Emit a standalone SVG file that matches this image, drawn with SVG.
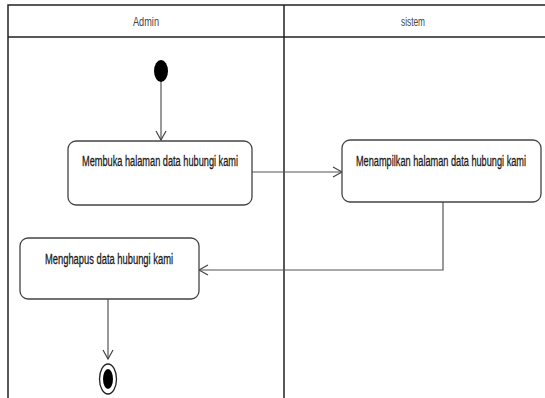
<svg xmlns="http://www.w3.org/2000/svg" width="545" height="398" viewBox="0 0 545 398">
<style>
.frame{fill:none;stroke:#222;stroke-width:1.5}
.node{fill:#fff;stroke:#444;stroke-width:1.3}
.lbl{font-family:"Liberation Sans",Arial,sans-serif;font-size:15px;fill:#1a1a1a;text-anchor:middle;stroke:#1a1a1a;stroke-width:0.3}
.hdr{font-family:"Liberation Sans",Arial,sans-serif;font-size:13px;fill:#444;text-anchor:middle}
.edge{fill:none;stroke:#555;stroke-width:1.2}
</style>
<defs>
<marker id="arr" markerWidth="12" markerHeight="12" refX="10" refY="6" orient="auto" markerUnits="userSpaceOnUse">
<path d="M1,1 L10,6 L1,11" fill="none" stroke="#444" stroke-width="1.2"/>
</marker>
</defs>
<rect width="545" height="398" fill="#fff"/>
<g id="swimlanes">
<path class="frame" d="M8,398 L8,5 L546,5 M8,37 L546,37 M284,5 L284,398"/>
<text class="hdr" x="146" y="26" textLength="26" lengthAdjust="spacingAndGlyphs">Admin</text>
<text class="hdr" x="413" y="26" textLength="24" lengthAdjust="spacingAndGlyphs">sistem</text>
</g>
<g id="connectors">
<path class="edge" d="M161,81 L161,140" marker-end="url(#arr)"/>
<path class="edge" d="M252,172 L342,172" marker-end="url(#arr)"/>
<path class="edge" d="M443,202 L443,270 L199,270" marker-end="url(#arr)"/>
<path class="edge" d="M108,299 L108,359" marker-end="url(#arr)"/>
</g>
<g id="start">
<ellipse cx="161" cy="71" rx="7" ry="11" fill="#000"/>
</g>
<g id="node1">
<rect class="node" x="68" y="141" width="184" height="64" rx="8"/>
<text class="lbl" transform="translate(160,166) scale(0.667,1)" x="0" y="0" textLength="234" lengthAdjust="spacingAndGlyphs">Membuka halaman data hubungi kami</text>
</g>
<g id="node2">
<rect class="node" x="342" y="140" width="199" height="62" rx="8"/>
<text class="lbl" transform="translate(441,166) scale(0.667,1)" x="0" y="0" textLength="255" lengthAdjust="spacingAndGlyphs">Menampilkan halaman data hubungi kami</text>
</g>
<g id="node3">
<rect class="node" x="20" y="238" width="179" height="61" rx="8"/>
<text class="lbl" transform="translate(109,264) scale(0.667,1)" x="0" y="0" textLength="192" lengthAdjust="spacingAndGlyphs">Menghapus data hubungi kami</text>
</g>
<g id="end">
<ellipse cx="108" cy="379" rx="8.5" ry="15" fill="#fff" stroke="#222" stroke-width="1.3"/>
<ellipse cx="108" cy="379" rx="5" ry="10" fill="#000"/>
</g>
</svg>
